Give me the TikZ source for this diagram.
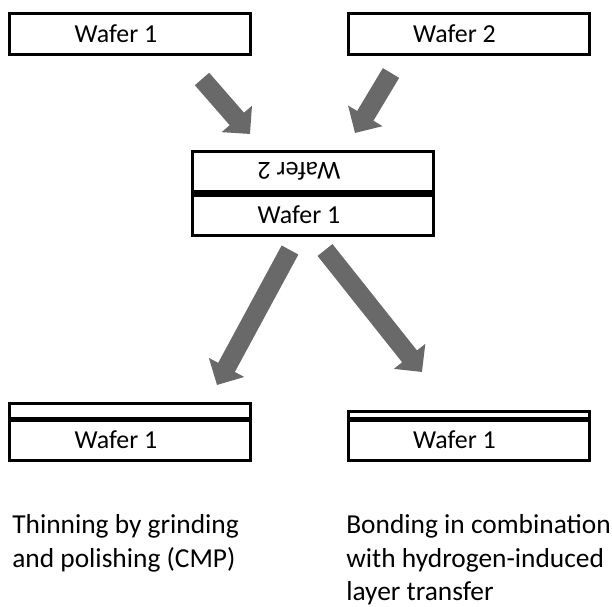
\documentclass[tikz,border=0pt]{standalone}
\usepackage{fontspec}
\setmainfont{Carlito}
\usetikzlibrary{arrows.meta,positioning}
\definecolor{arrowgray}{RGB}{105,105,105}

\begin{document}
\begin{tikzpicture}[x=1bp,y=-1bp,semithick]
  \tikzstyle{wafer}=[draw,line width=3bp,inner sep=0pt,outer sep=0pt,minimum width=241bp,minimum height=41bp,font=\fontsize{26}{35}\selectfont]
  \tikzstyle{layer}=[draw,line width=3bp,inner sep=0pt,outer sep=0pt,minimum width=241bp]
  \tikzstyle{bond}=[line width=5bp]
  \tikzstyle{push}=[line width=19bp,color=arrowgray,-{Triangle[width=39bp,length=20bp]}]
  \tikzstyle{caption}=[align=left,anchor=north west,inner sep=0pt,font=\fontsize{27.5}{33.5}\selectfont]

  \useasboundingbox (0,0) rectangle (612,607);

  \node[wafer] (top1) at (130,34) {\hspace*{-28bp}Wafer 1};
  \node[wafer] (top2) at (468.5,34) {\hspace*{-28bp}Wafer 2};
  \node[wafer] (mid1) at (313,215) {\hspace*{-28bp}Wafer 1};
  \node[wafer,rotate=180,minimum height=40bp] (mid2) at (313,171.5) {\hspace*{28bp}Wafer 2};
  \node[wafer] (bot1) at (130,440) {\hspace*{-28bp}Wafer 1};
  \node[layer,minimum height=16bp,above=0pt of bot1] (film1) {};
  \node[wafer] (bot2) at (468.5,440) {\hspace*{-28bp}Wafer 1};
  \node[layer,minimum height=8bp,above=0pt of bot2] (film2) {};

  \draw[bond] (mid1.north west) -- (mid1.north east);
  \draw[bond] (bot1.north west) -- (bot1.north east);
  \draw[bond] (bot2.north west) -- (bot2.north east);

  \coordinate (from1) at (202,79);
  \coordinate (to1) at (250,134);
  \coordinate (from2) at (391,73);
  \coordinate (to2) at (355,133);
  \coordinate (from3) at (290,250);
  \coordinate (to3) at (217,385);
  \coordinate (from4) at (325,250);
  \coordinate (to4) at (422,372);

  \draw[push] (from1) -- (to1);
  \draw[push] (from2) -- (to2);
  \draw[push] (from3) -- (to3);
  \draw[push] (from4) -- (to4);

  \node[caption] (cap1) at (12,514.5) {Thinning by grinding\\and polishing (CMP)};
  \node[caption] (cap2) at (346,514.5) {Bonding in combination\\with hydrogen-induced\\layer transfer};

\end{tikzpicture}
\end{document}
